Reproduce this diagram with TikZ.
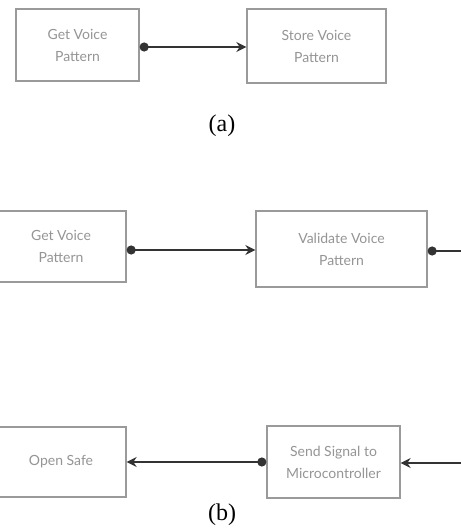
\documentclass[tikz,border=0pt]{standalone}
\usepackage{fontspec}
\setmainfont{Liberation Serif}
\newfontfamily\boxfont{Lato}
\usetikzlibrary{arrows.meta}
\definecolor{boxline}{HTML}{9A9A9A}
\definecolor{boxtext}{HTML}{959595}
\definecolor{arrowcol}{HTML}{333333}
\tikzset{
  x=1pt, y=-1pt,
  stepbox/.style={draw=boxline, line width=1.3pt, fill=white, align=center,
    font=\boxfont\fontsize{14}{22}\selectfont, text=boxtext, inner sep=0pt},
  conn/.style={draw=arrowcol, line width=2.3pt, {Circle[length=9pt]}-{Stealth[length=10pt,width=10pt]}},
  connin/.style={draw=arrowcol, line width=2.3pt, -{Stealth[length=10pt,width=10pt]}},
  connout/.style={draw=arrowcol, line width=2.3pt, {Circle[length=9pt]}-},
  caption/.style={font=\fontsize{24}{26}\selectfont, text=black}
}
\begin{document}
\begin{tikzpicture}
\useasboundingbox (0,0) rectangle (460,529);
% (a)
\node[stepbox, minimum width=123pt, minimum height=72pt] (a1) at (77.5,45) {Get Voice\\Pattern};
\node[stepbox, minimum width=139pt, minimum height=74pt] (a2) at (316.5,46) {Store Voice\\Pattern};
\draw[conn] (a1.east |- 0,47) -- (a2.west |- 0,47);
\node[caption] (la) at (222,126) {(a)};
% (b) row 1
\node[stepbox, minimum width=130pt, minimum height=71pt] (b1) at (61,246.5) {Get Voice\\Pattern};
\node[stepbox, minimum width=171pt, minimum height=76pt] (b2) at (341.5,249) {Validate Voice\\Pattern};
\draw[conn] (b1.east |- 0,250) -- (b2.west |- 0,250);
\coordinate (r1) at (462,251);
\draw[connout] (b2.east |- 0,251) -- (r1);
% (b) row 2
\node[stepbox, minimum width=130pt, minimum height=70pt] (c1) at (61,462) {Open Safe};
\node[stepbox, minimum width=133pt, minimum height=72pt] (c2) at (333.5,462) {Send Signal to\\Microcontroller};
\draw[conn] (c2.west |- 0,462) -- (c1.east |- 0,462);
\coordinate (r2) at (462,463);
\draw[connin] (r2) -- (c2.east |- 0,463);
\node[caption] (lb) at (222,515) {(b)};
\end{tikzpicture}
\end{document}
